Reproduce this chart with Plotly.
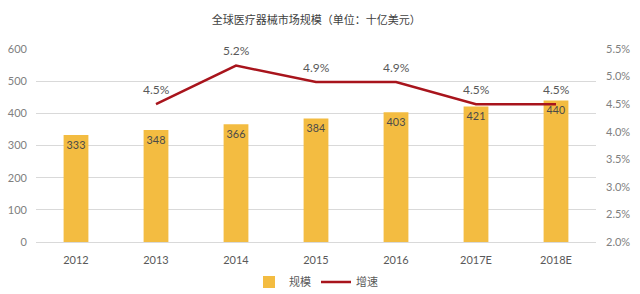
import plotly.graph_objects as go

years = ["2012", "2013", "2014", "2015", "2016", "2017E", "2018E"]
market_size = [333, 348, 366, 384, 403, 421, 440]
growth = [None, 4.5, 5.2, 4.9, 4.9, 4.5, 4.5]
growth_labels = ["" if g is None else f"{g:.1f}%" for g in growth]

title_text = "全球医疗器械市场规模（单位：十亿美元）"
bar_name = "规模"
line_name = "增速"

cjk = "Noto Sans CJK SC"
latin = "Lato, Liberation Sans, sans-serif"

fig = go.Figure()
fig.add_trace(go.Bar(
    x=years, y=market_size, name=bar_name,
    marker=dict(color="#F3BC41", line=dict(width=0)),
    width=0.31,
    text=[str(v) for v in market_size],
    textposition="inside", insidetextanchor="end", textangle=0,
    textfont=dict(family=latin, size=13, color="#4a4a4a"),
    cliponaxis=False,
))
fig.add_trace(go.Scatter(
    x=years, y=growth, name=line_name, yaxis="y2",
    mode="lines",
    line=dict(color="#A8141C", width=2.5),
    cliponaxis=False,
))

for i, (g, lab) in enumerate(zip(growth, growth_labels)):
    if g is None:
        continue
    fig.add_annotation(x=i, y=g, xref="x", yref="y2", text=lab, showarrow=False,
                       yshift=15, yanchor="middle",
                       font=dict(family=latin, size=12, color="#595959"))

fig.update_layout(
    width=640, height=294,
    margin=dict(l=36, r=44, t=49, b=52, autoexpand=False),
    paper_bgcolor="white", plot_bgcolor="white",
    title=dict(text=title_text, x=0.494, xanchor="center", y=0.93, yanchor="middle",
               font=dict(family=cjk, size=11, color="#404040")),
    xaxis=dict(type="category", categoryorder="array", categoryarray=years,
               range=[-0.5, len(years) - 0.5], automargin=False,
               showgrid=False, showline=True, linecolor="#D9D9D9", linewidth=1,
               ticks="", ticklabelstandoff=8,
               tickfont=dict(family=latin, size=11, color="#595959")),
    yaxis=dict(range=[0, 600], dtick=100, showgrid=True, gridcolor="#D9D9D9",
               zeroline=False, ticks="", ticklabelstandoff=8, automargin=False,
               tickfont=dict(family=latin, size=11, color="#808080")),
    yaxis2=dict(range=[2.0, 5.5], dtick=0.5, overlaying="y", side="right",
                showgrid=False, zeroline=False, ticksuffix="%", tickformat=".1f",
                ticklabelstandoff=9, automargin=False,
                tickfont=dict(family=latin, size=11, color="#808080")),
    legend=dict(orientation="h", x=0.5, xanchor="center",
                y=0.041, yanchor="middle", yref="container",
                font=dict(family=cjk, size=11, color="#595959"),
                itemwidth=30, traceorder="normal"),
    bargap=0.69,
)

fig.write_html("out.html")
